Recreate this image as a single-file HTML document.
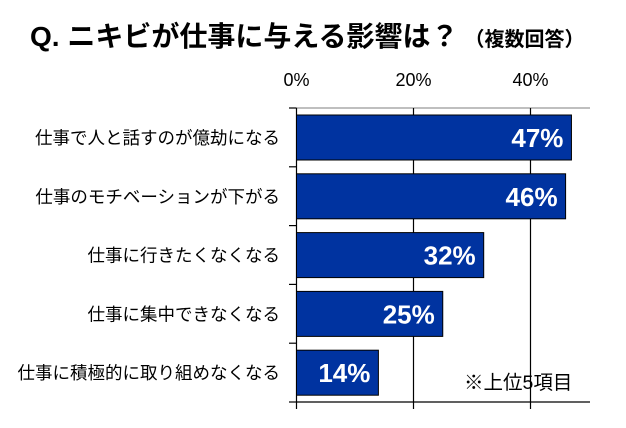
<!DOCTYPE html>
<html><head><meta charset="utf-8"><style>
body{margin:0;background:#fff;}
svg text{font-family:"Liberation Sans","Noto Sans CJK JP",sans-serif;}
</style></head><body>
<svg width="626" height="423" xmlns="http://www.w3.org/2000/svg">
<text x="30" y="46" font-size="28" font-weight="bold" fill="#000">Q. ニキビが仕事に与える影響は？<tspan font-size="20" dx="6">（複数回答）</tspan></text>
<g id="plot"></g>
</svg>
<script>
const categories=["仕事で人と話すのが億劫になる","仕事のモチベーションが下がる","仕事に行きたくなくなる","仕事に集中できなくなる","仕事に積極的に取り組めなくなる"];
const values=[47,46,32,25,14];
const ticks=[0,20,40];
const tickLabels=["0%","20%","40%"];
const NS="http://www.w3.org/2000/svg";
const g=document.getElementById('plot');
const x0=296.5,pxPer=5.85,plotTop=108,plotBottom=402,plotRight=590;
const band=(plotBottom-plotTop)/categories.length;
const xs=v=>x0+v*pxPer;
function el(t,a){const e=document.createElementNS(NS,t);for(const k in a)e.setAttribute(k,a[k]);g.appendChild(e);return e;}
let l=el('line',{x1:x0,y1:plotTop,x2:plotRight,y2:plotTop,stroke:'#999','stroke-width':1.3});


ticks.forEach((t,i)=>{
 const gl=el('line',{x1:xs(t),y1:plotTop,x2:xs(t),y2:plotBottom+7,stroke:'#000','stroke-width':1.2});
 
 
 const tx=el('text',{x:xs(t),y:86,'text-anchor':'middle','font-size':18,fill:'#000'});
 tx.textContent=tickLabels[i];
 
 
});
for(let i=0;i<=categories.length;i++){
 const tk=el('line',{x1:289,y1:plotTop+i*band,x2:x0,y2:plotTop+i*band,stroke:'#000','stroke-width':1.2});
 
 
}
categories.forEach((c,i)=>{
 const y=plotTop+i*band+7;
 const r=el('rect',{x:x0,y:y,width:xs(values[i])-x0,height:45,fill:'#0033a0',stroke:'#000','stroke-width':1});
 
 
 const v=el('text',{x:xs(values[i])-8,y:y+32,'text-anchor':'end','font-size':26,'font-weight':'bold',fill:'#fff'});
 v.textContent=values[i]+'%';
 
 
 const t=el('text',{x:280,y:y+29,'text-anchor':'end','font-size':17.5,fill:'#000'});
 t.textContent=c;
 
 
});
const b=el('line',{x1:x0,y1:plotBottom,x2:plotRight,y2:plotBottom,stroke:'#000','stroke-width':1.3});


const n=el('text',{x:464,y:389,'font-size':19.5,fill:'#000'});
n.textContent='※上位5項目';


</script>
</body></html>
